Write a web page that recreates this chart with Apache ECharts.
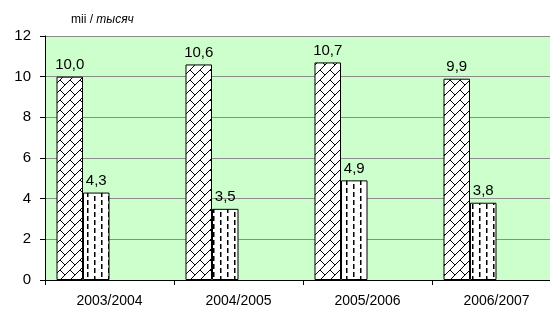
<!DOCTYPE html>
<html>
<head>
<meta charset="utf-8">
<script src="https://cdn.jsdelivr.net/npm/echarts@6/dist/echarts.min.js"></script>
<style>
  html, body { margin: 0; padding: 0; background: #fff; overflow: hidden; }
  /* plot area runs past the right edge in the original, so the canvas is a bit wider than the window */
  #chart { width: 561px; height: 315px; }
</style>
</head>
<body>
<div id="chart"></div>
<script>
  // data
  var years = ['2003/2004', '2004/2005', '2005/2006', '2006/2007'];
  var seriesA = [10.0, 10.6, 10.7, 9.9];
  var seriesB = [4.3, 3.5, 4.9, 3.8];
  // two empty series keep the Excel-like bar slots (bars sit left in each category)
  var emptySlots = ['-', '-', '-', '-'];
  var yTicks = { min: 0, max: 12, step: 2 };

  // pattern: diagonal brick
  function brickPattern() {
    var c = document.createElement('canvas');
    var s = 10;
    c.width = s; c.height = s;
    var g = c.getContext('2d');
    g.fillStyle = '#fff';
    g.fillRect(0, 0, s, s);
    g.strokeStyle = '#000';
    g.lineWidth = 1;
    g.beginPath();
    g.moveTo(-1, s + 1); g.lineTo(s + 1, -1);
    g.moveTo(0, 0); g.lineTo(s / 2, s / 2);
    g.stroke();
    return c;
  }
  // pattern: dashed vertical
  function dashPattern() {
    var c = document.createElement('canvas');
    c.width = 14; c.height = 8;
    var g = c.getContext('2d');
    g.fillStyle = '#fff';
    g.fillRect(0, 0, 14, 8);
    g.fillStyle = '#000';
    g.fillRect(3, 0, 1.5, 5);
    g.fillRect(10, 4, 1.5, 5);
    g.fillRect(10, 0, 1.5, 1);
    return c;
  }

  function commaLabel(p) {
    return p.value.toFixed(1).replace('.', ',');
  }

  var chart = echarts.init(document.getElementById('chart'));
  var labelStyle = {
    show: true,
    position: 'top',
    distance: 4,
    color: '#000',
    fontSize: 15,
    fontFamily: 'Liberation Sans, Arial, sans-serif',
    formatter: commaLabel
  };
  var option = {
    animation: false,
    title: {
      text: '{n|mii / }{i|тысяч}',
      left: 66,
      top: 9,
      textStyle: {
        fontWeight: 'normal',
        rich: {
          n: { fontSize: 12, color: '#000', fontWeight: 'normal', fontFamily: 'Liberation Sans, Arial, sans-serif' },
          i: { fontSize: 12, color: '#000', fontWeight: 'normal', fontStyle: 'italic', fontFamily: 'Liberation Sans, Arial, sans-serif' }
        }
      }
    },
    grid: { left: 45, right: 0, top: 36, bottom: 35, show: true, backgroundColor: '#ccffcc', borderWidth: 0 },
    xAxis: {
      type: 'category',
      data: years,
      axisLine: { lineStyle: { color: '#000', width: 1 } },
      axisTick: { show: true, length: 5, lineStyle: { color: '#000' } },
      axisLabel: { color: '#000', fontSize: 14, margin: 14, fontFamily: 'Liberation Sans, Arial, sans-serif' }
    },
    yAxis: {
      type: 'value',
      min: yTicks.min,
      max: yTicks.max,
      interval: yTicks.step,
      axisLine: { show: true, lineStyle: { color: '#000', width: 1 } },
      axisTick: { show: true, length: 5, lineStyle: { color: '#000' } },
      axisLabel: { color: '#000', fontSize: 15, margin: 14, fontFamily: 'Liberation Sans, Arial, sans-serif' },
      splitLine: { show: true, lineStyle: { color: '#8c8c8c', width: 1 } }
    },
    series: [
      {
        type: 'bar', data: seriesA, barWidth: 26.5, barGap: '0%',
        itemStyle: { color: { image: brickPattern(), repeat: 'repeat' }, borderColor: '#000', borderWidth: 1 },
        label: labelStyle
      },
      {
        type: 'bar', data: seriesB, barWidth: 26.5, barGap: '0%',
        itemStyle: { color: { image: dashPattern(), repeat: 'repeat' }, borderColor: '#000', borderWidth: 1 },
        label: labelStyle
      },
      { type: 'bar', data: emptySlots, barWidth: 26.5, barGap: '0%' },
      { type: 'bar', data: emptySlots, barWidth: 26.5, barGap: '0%' }
    ]
  };
  chart.setOption(option);
</script>
</body>
</html>
